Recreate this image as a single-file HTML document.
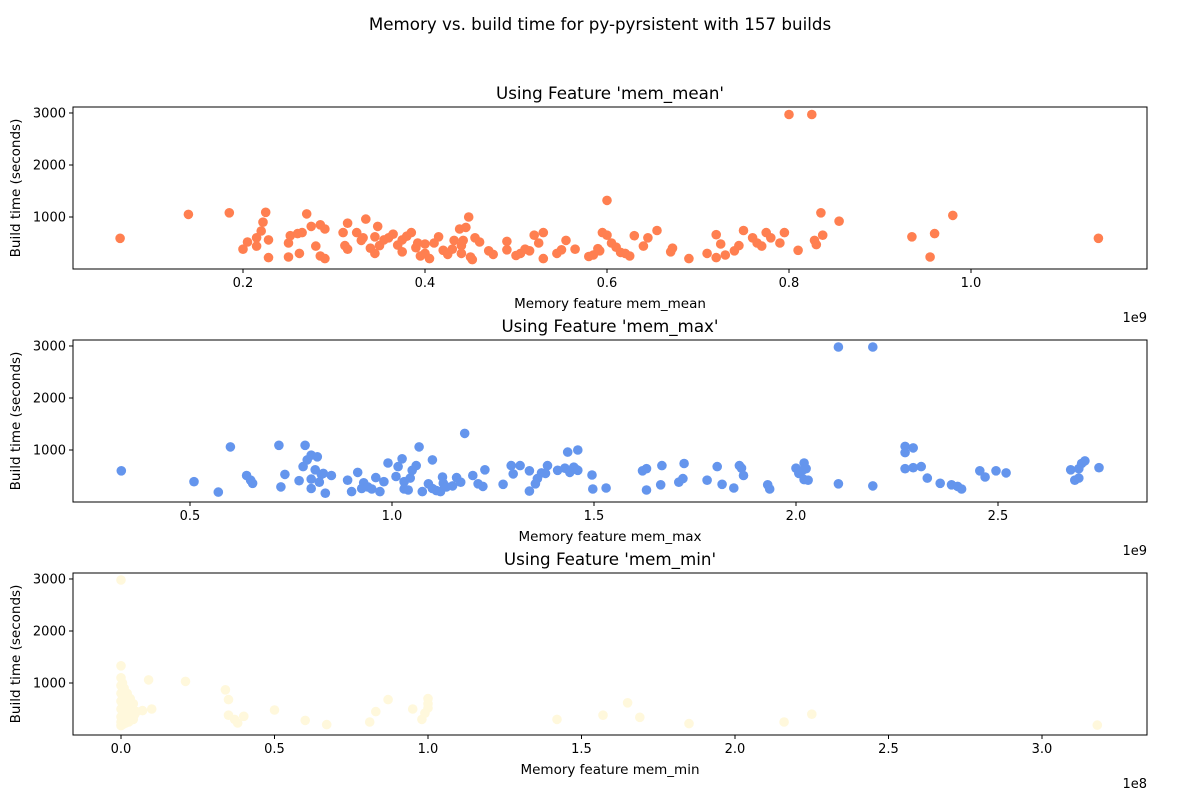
<!DOCTYPE html>
<html><head><meta charset="utf-8"><style>
body{margin:0;background:#fff;}
svg{display:block;font-family:"DejaVu Sans","Liberation Sans",sans-serif;}
</style></head><body>
<svg id="chart" width="1200" height="800" viewBox="0 0 1200 800">
<text x="600" y="30" text-anchor="middle" font-size="16.7">Memory vs. build time for py-pyrsistent with 157 builds</text>
</svg>
<script>
const meanX=[0.065,0.14,0.185,0.2,0.205,0.215,0.215,0.22,0.222,0.225,0.228,0.228,0.25,0.25,0.252,0.26,0.262,0.265,0.27,0.275,0.28,0.285,0.285,0.29,0.29,0.31,0.312,0.315,0.315,0.325,0.33,0.332,0.335,0.34,0.345,0.345,0.348,0.35,0.355,0.36,0.365,0.37,0.375,0.375,0.38,0.385,0.39,0.392,0.395,0.4,0.4,0.405,0.41,0.415,0.42,0.425,0.43,0.432,0.438,0.44,0.44,0.442,0.445,0.448,0.45,0.452,0.455,0.46,0.47,0.475,0.49,0.49,0.5,0.505,0.51,0.515,0.52,0.525,0.53,0.53,0.545,0.55,0.555,0.565,0.58,0.585,0.59,0.592,0.595,0.6,0.6,0.605,0.61,0.615,0.62,0.625,0.63,0.64,0.645,0.655,0.67,0.672,0.69,0.71,0.72,0.72,0.725,0.73,0.74,0.745,0.75,0.76,0.765,0.77,0.775,0.78,0.79,0.795,0.81,0.828,0.83,0.835,0.837,0.855,0.8,0.825,0.935,0.955,0.96,0.98,1.14];
const meanY=[590,1050,1080,380,520,600,440,730,900,1090,560,220,230,500,640,680,300,700,1060,820,440,250,850,200,770,700,450,880,380,700,550,600,960,400,620,300,820,450,560,600,670,460,330,560,630,700,410,500,250,300,480,200,500,620,360,280,380,550,770,450,300,550,800,1000,230,180,600,520,350,280,530,370,260,300,380,350,650,500,700,200,300,370,550,380,240,270,390,350,700,650,1320,500,420,320,300,250,640,440,600,740,330,400,200,300,220,660,480,270,350,450,740,600,500,440,700,600,500,700,360,550,470,1080,650,920,2970,2970,620,230,680,1030,590];
const maxX=[0.33,0.51,0.57,0.6,0.64,0.65,0.655,0.72,0.725,0.735,0.77,0.78,0.785,0.79,0.8,0.8,0.8,0.81,0.815,0.82,0.825,0.83,0.835,0.85,0.89,0.9,0.915,0.925,0.93,0.94,0.95,0.96,0.97,0.98,0.99,1.01,1.015,1.025,1.03,1.03,1.04,1.045,1.05,1.06,1.067,1.075,1.09,1.1,1.1,1.11,1.12,1.125,1.127,1.135,1.15,1.16,1.17,1.18,1.2,1.213,1.225,1.23,1.275,1.295,1.3,1.317,1.34,1.34,1.355,1.36,1.37,1.38,1.385,1.41,1.428,1.435,1.44,1.45,1.455,1.46,1.46,1.495,1.497,1.53,1.62,1.63,1.63,1.665,1.668,1.71,1.72,1.723,1.78,1.805,1.817,1.846,1.86,1.865,1.87,1.93,1.935,2.0,2.007,2.015,2.02,2.025,2.02,2.03,2.105,2.105,2.19,2.19,2.27,2.27,2.27,2.29,2.29,2.31,2.325,2.357,2.385,2.4,2.41,2.455,2.468,2.495,2.52,2.68,2.69,2.7,2.7,2.707,2.715,2.75];
const maxY=[600,390,190,1060,510,420,360,1090,290,530,410,680,1090,810,900,260,440,620,870,380,530,550,170,510,420,200,570,260,370,290,250,470,200,390,750,490,680,830,390,250,230,460,610,700,1060,200,350,810,260,220,200,480,360,290,310,470,380,1320,510,350,300,620,340,700,540,700,210,600,350,450,560,550,700,610,650,960,570,670,630,1000,610,520,250,270,600,640,230,330,700,380,450,740,420,680,340,270,700,650,510,330,250,650,550,600,750,640,430,420,350,2980,2980,310,950,1070,640,1040,660,680,460,360,330,300,250,600,480,600,560,620,420,460,640,740,790,660];
const minX=[0,0,0,0,0,0,0,0,0,0,0.005,0.005,0.005,0.005,0.005,0.005,0.005,0.01,0.01,0.01,0.01,0.01,0.01,0.015,0.015,0.015,0.015,0.02,0.02,0.02,0.02,0.025,0.025,0.03,0.03,0.035,0.04,0.04,0.045,0.05,0.07,0.09,0.1,0.21,0.34,0.35,0.35,0.37,0.38,0.4,0.5,0.6,0.67,0.81,0.83,0.87,0.95,0.98,0.99,1.0,1.0,1.0,1.42,1.57,1.65,1.69,1.85,2.16,2.25,3.18];
const minY=[2980,1330,1100,950,800,650,500,350,250,180,1000,850,700,600,450,300,200,900,750,550,400,280,220,650,500,350,230,800,600,420,300,550,250,700,400,350,600,300,400,450,470,1060,500,1030,870,680,380,300,230,360,480,280,200,250,450,680,500,300,420,700,600,520,300,380,620,340,220,250,400,190];
const yTicks=[1000,2000,3000];
const meanTicks=[0.2,0.4,0.6,0.8,1.0];
const maxTicks=[0.5,1.0,1.5,2.0,2.5];
const minTicks=[0.0,0.5,1.0,1.5,2.0,2.5,3.0];

const NS="http://www.w3.org/2000/svg";
const svg=document.getElementById('chart');
function mk(tag,attrs,parent){const e=document.createElementNS(NS,tag);for(const k in attrs)e.setAttribute(k,attrs[k]);(parent||svg).appendChild(e);return e;}
const L=73,R=1147,yDom=[0,3115];
function panel(key,top,xDom,xs,ys,color,ticks,title,xlabel,exp){
  const B=top+162;
  const sx=v=>L+(v-xDom[0])/(xDom[1]-xDom[0])*(R-L);
  const sy=v=>B-(v-yDom[0])/(yDom[1]-yDom[0])*162;
  const g=mk('g',{});
  
  
  const t=mk('text',{x:(L+R)/2,y:top-8,'text-anchor':'middle','font-size':16.7},g);t.textContent=title;
  
  
  for(let i=0;i<xs.length;i++){
    const c=mk('circle',{cx:sx(xs[i]).toFixed(1),cy:sy(ys[i]).toFixed(1),r:4.8,fill:color},g);
    
    
  }
  const f=mk('rect',{x:L,y:top,width:R-L,height:162,fill:'none',stroke:'#000','stroke-width':1},g);
  
  
  yTicks.forEach(v=>{const y=sy(v);mk('line',{x1:L-4,x2:L,y1:y,y2:y,stroke:'#000'},g);
    const tt=mk('text',{x:L-7,y:y+4.5,'text-anchor':'end','font-size':13},g);tt.textContent=v;
    
    });
  ticks.forEach(v=>{const x=sx(v);mk('line',{x1:x,x2:x,y1:B,y2:B+4,stroke:'#000'},g);
    const tt=mk('text',{x:x,y:B+18,'text-anchor':'middle','font-size':13},g);tt.textContent=v.toFixed(1);
    
    });
  const xl=mk('text',{x:(L+R)/2,y:B+39,'text-anchor':'middle','font-size':13.5},g);xl.textContent=xlabel;
  
  
  const ex=mk('text',{x:R,y:B+53,'text-anchor':'end','font-size':13},g);ex.textContent=exp;
  
  
  const yl=mk('text',{x:0,y:0,'text-anchor':'middle','font-size':13.5,transform:`translate(20,${top+81}) rotate(-90)`},g);yl.textContent='Build time (seconds)';
  
  
}
panel('mem-mean',107,[0.0132,1.1934],meanX,meanY,'#ff7f50',meanTicks,"Using Feature 'mem_mean'",'Memory feature mem_mean','1e9');
panel('mem-max',340,[0.2104,2.8688],maxX,maxY,'#6495ed',maxTicks,"Using Feature 'mem_max'",'Memory feature mem_max','1e9');
panel('mem-min',573,[-0.1564,3.342],minX,minY,'#fff8dc',minTicks,"Using Feature 'mem_min'",'Memory feature mem_min','1e8');
</script>
</body></html>
